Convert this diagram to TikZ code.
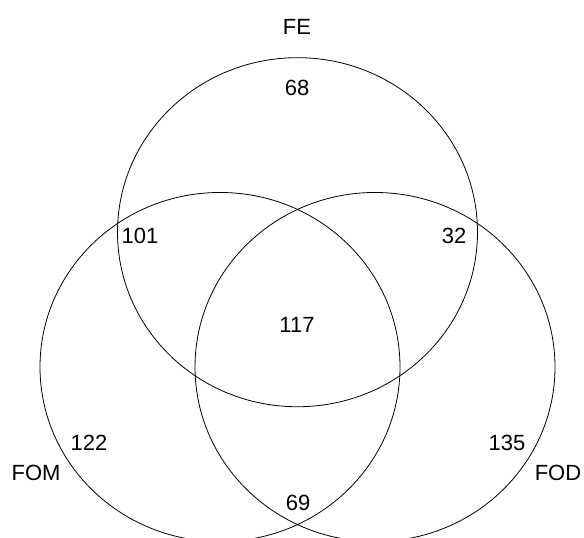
\documentclass[tikz,border=0pt]{standalone}
\usepackage{fontspec}
\setmainfont{Liberation Sans}
\usetikzlibrary{positioning}

\tikzset{
  setline/.style={line width=0.6pt, black},
  count/.style={inner sep=0pt, font=\fontsize{16.5}{20}\selectfont},
  setname/.style={count}
}

\begin{document}
\begin{tikzpicture}[x=0.75pt, y=-0.75pt]
    \clip (0,0) rectangle (584,537);
    \fill[white] (0,0) rectangle (584,537);

    % Sets
    \draw[setline] (297.5,232.2) ellipse [x radius=135pt, y radius=130.9pt];
    \draw[setline] (220,367) ellipse [x radius=135pt, y radius=130.9pt];
    \draw[setline] (375,367) ellipse [x radius=135pt, y radius=130.9pt];

    % Set names
    \node[setname] (fe) at (297,27) {FE};
    \node[setname] (fom) at (36,473) {FOM};
    \node[setname] (fod) at (558,473) {FOD};

    % Counts
    \node[count] (n68) at (297,88) {68};
    \node[count] (n101) at (140,236) {101};
    \node[count] (n32) at (454,236) {32};
    \node[count] (n117) at (297,325) {117};
    \node[count] (n122) at (89,443) {122};
    \node[count] (n135) at (507,443) {135};
    \node[count] (n69) at (298,503) {69};
\end{tikzpicture}
\end{document}
